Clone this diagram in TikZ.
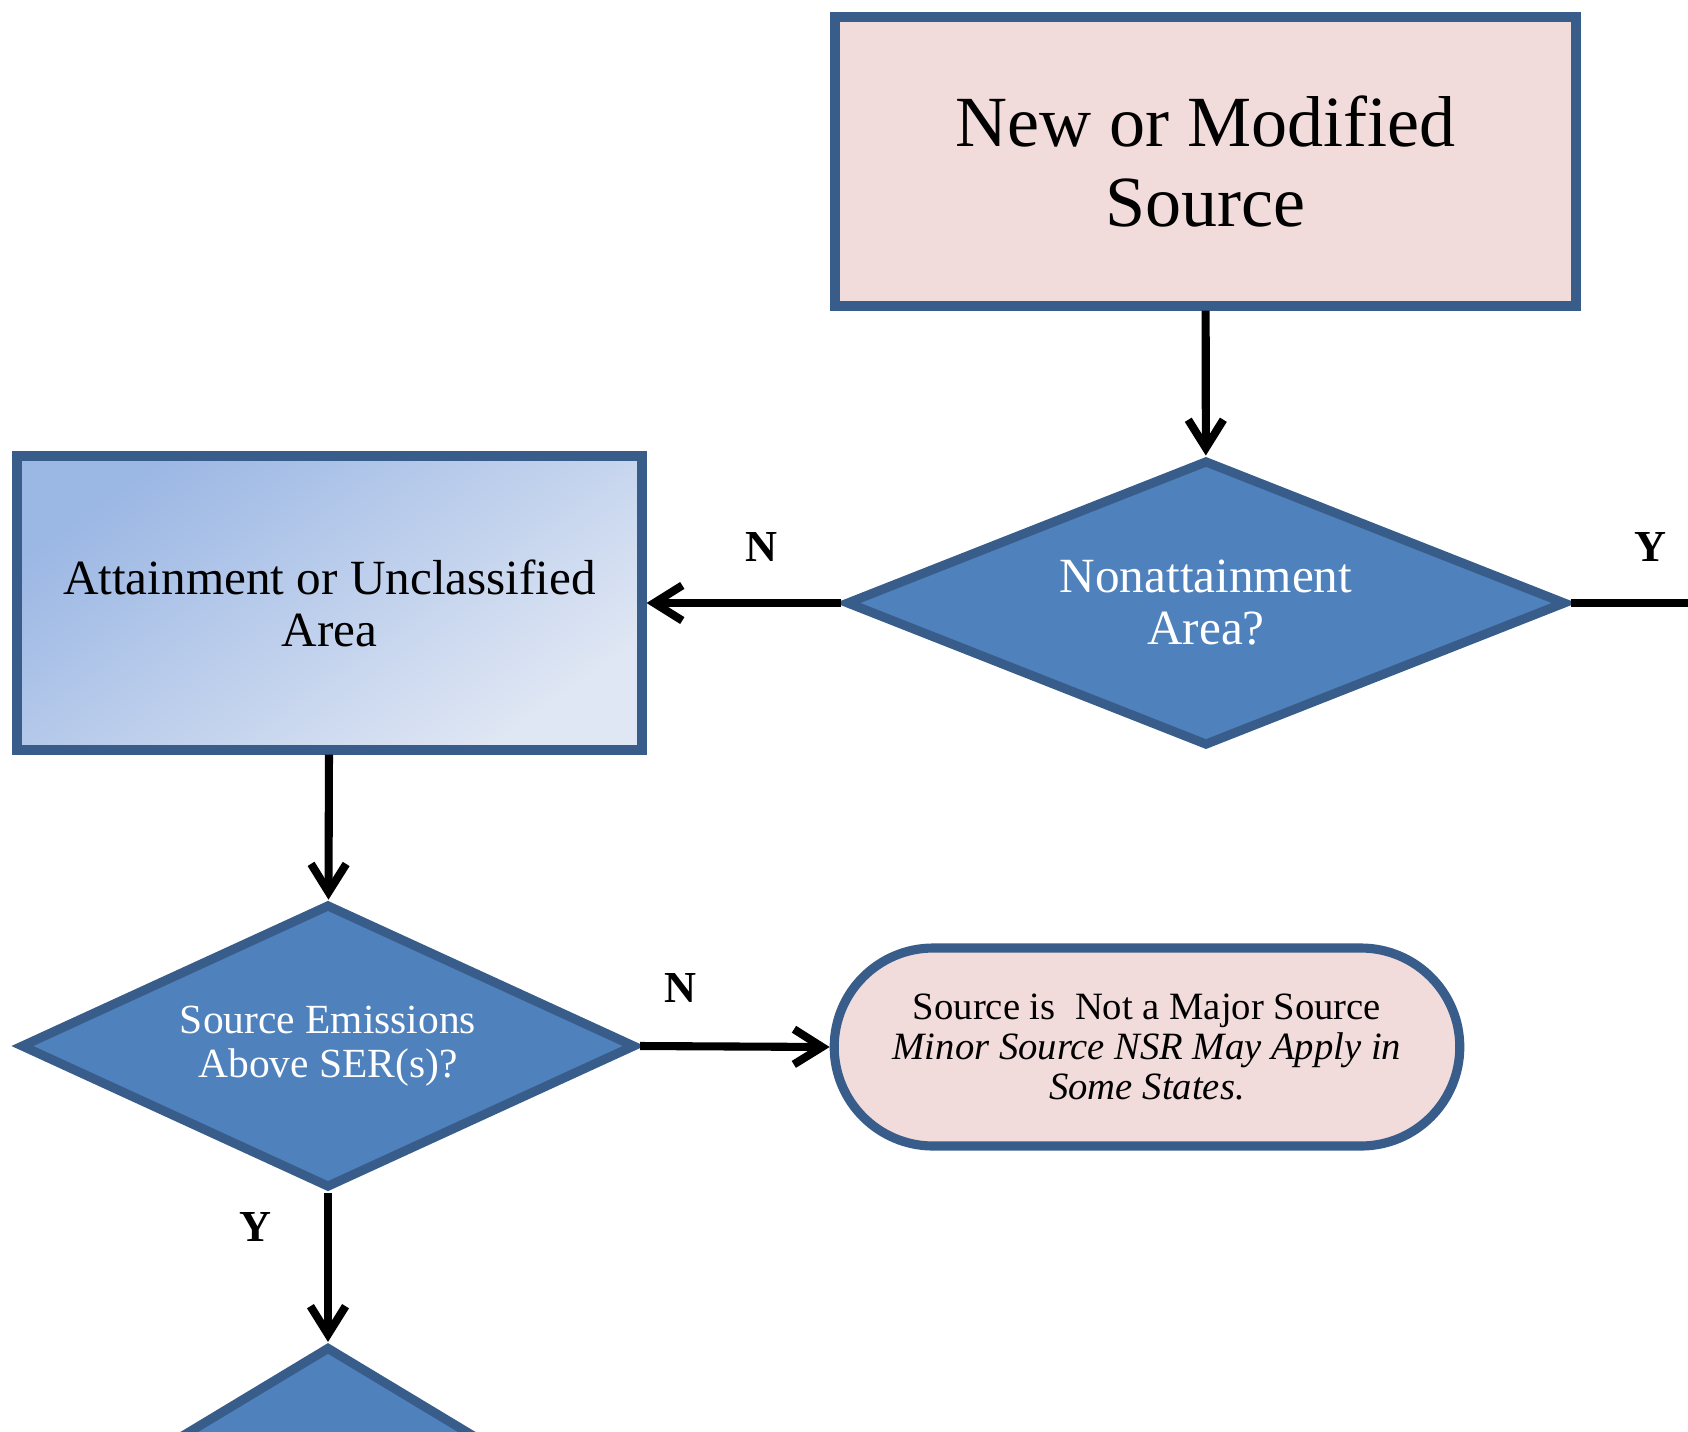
\documentclass[tikz,border=0pt]{standalone}
\usepackage{fontspec}
\setmainfont{Liberation Serif}
\usetikzlibrary{shapes.geometric}
\usetikzlibrary{shapes.misc}
\usetikzlibrary{arrows.meta}
\definecolor{boxpink}{RGB}{242,220,219}
\definecolor{boxedge}{RGB}{56,93,138}
\definecolor{decfill}{RGB}{79,129,189}
\definecolor{areatop}{RGB}{155,183,228}
\definecolor{areabot}{RGB}{224,231,244}

\begin{document}
\begin{tikzpicture}[
	edge/.style={draw=boxedge, line width=2.6pt},
	decision/.style={edge, diamond, fill=decfill, text=white, align=center, inner sep=0pt},
	flow/.style={line width=2.3pt, -{Straight Barb[length=8pt,width=10pt]}},
	yn/.style={font=\fontsize{12.6}{13}\selectfont\bfseries}
]
	\useasboundingbox (0,0) rectangle (16.88,-14.31);
	\clip (0,0) rectangle (16.88,-14.31);
	\node[edge, rectangle, fill=boxpink, minimum width=7.41cm, minimum height=2.89cm, align=center, font=\fontsize{20.5}{22.5}\selectfont] (source) at (12.055,-1.615) {New or Modified\\Source};
	\node[decision, aspect=2.5, minimum width=7.2cm, minimum height=2.86cm, font=\fontsize{14}{14.8}\selectfont] (nonatt) at (12.06,-6.03) {Nonattainment\\Area?};
	\node[edge, rectangle, top color=areatop, bottom color=areabot, shading angle=35, minimum width=6.25cm, minimum height=2.94cm, align=center, font=\fontsize{14}{14.8}\selectfont] (attain) at (3.295,-6.03) {Attainment or Unclassified\\Area};
	\node[decision, aspect=2.15, minimum width=6.15cm, minimum height=2.84cm, font=\fontsize{11.8}{12.4}\selectfont] (ser) at (3.28,-10.46) {Source Emissions\\Above SER(s)?};
	\node[edge, rounded rectangle, fill=boxpink, minimum width=6.49cm, minimum height=1.98cm, align=center, font=\fontsize{11}{11.4}\selectfont] (minor) at (11.47,-10.47) {Source is\ \ Not a Major Source\\\textit{Minor Source NSR May Apply in}\\\textit{Some States.}};
	\node[decision, aspect=1.65, minimum width=6.2cm, minimum height=3.75cm] (next) at (3.28,-15.34) {};
	\coordinate (yout) at (16.88,-6.03);

	\draw[flow] (source) -- (nonatt);
	\draw[flow] (nonatt) -- (attain);
	\draw[line width=2.3pt] (nonatt.east) -- (yout);
	\draw[flow] (attain) -- (ser);
	\draw[flow] (ser.east) -- (minor.west);
	\draw[flow] (ser) -- (next);

	\node[yn] (n1) at (7.61,-5.47) {N};
	\node[yn] (y1) at (16.50,-5.47) {Y};
	\node[yn] (n2) at (6.80,-9.88) {N};
	\node[yn] (y2) at (2.55,-12.27) {Y};
\end{tikzpicture}
\end{document}
